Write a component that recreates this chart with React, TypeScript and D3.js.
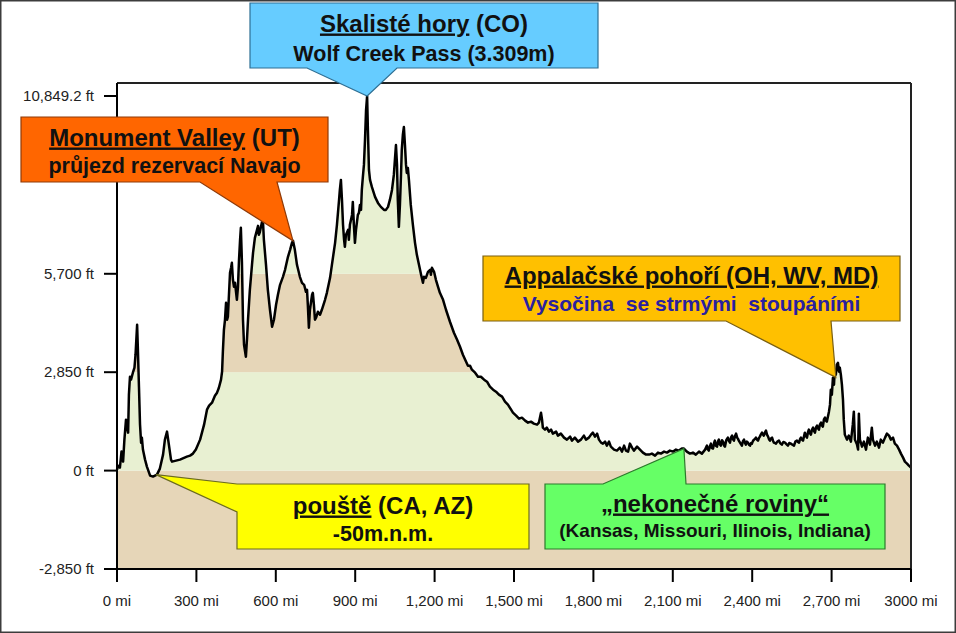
import React from 'react';
import * as d3 from 'd3';

const W = 956;
const H = 633;

const xTicks = [0, 300, 600, 900, 1200, 1500, 1800, 2100, 2400, 2700, 3000];
const xTickLabels = ['0 mi', '300 mi', '600 mi', '900 mi', '1,200 mi', '1,500 mi', '1,800 mi', '2,100 mi', '2,400 mi', '2,700 mi', '3000 mi'];
const yTicks = [-2850, 0, 2850, 5700, 10849.2];
const yTickLabels = ['-2,850 ft', '0 ft', '2,850 ft', '5,700 ft', '10,849.2 ft'];

const bandEdges = [-2850, 0, 2850, 5700, 11230];
const bandColors = ['#e6d6b8', '#e8f0d2', '#e6d6b8', '#e8f0d2'];

// [distance in miles, elevation in feet]
const desertProfile: [number, number][] = [[0,29],[4,145],[11,87],[17,550],[23,260],[28,897],[34,1475],[38,1244],[42,1099],[45,2199],[49,2719],[53,2633],[60,2835],[66,2980],[70,3356],[76,4224],[79,3500],[83,2430],[87,1331],[91,810],[94,955],[98,608],[106,318],[113,116],[125,-145],[136,-174],[151,-116],[162,58],[174,463],[181,897],[189,1128],[196,752],[204,318],[208,260],[238,318],[264,405],[276,434],[287,492],[298,608],[314,897],[329,1331],[340,1765],[348,1880],[359,1967],[370,2170],[378,2257],[385,2401],[393,2633]];

const rockiesProfile: [number, number][] = [[397,2864],[400,3443],[404,4079],[408,4368],[412,4860],[416,4368],[419,4455],[423,5092],[427,5728],[431,5873],[434,6017],[438,5526],[442,5323],[446,5439],[453,4947],[457,5323],[461,6104],[465,6683],[468,7030],[472,6046],[476,4368],[480,3645],[487,3298],[491,3790],[495,4368],[502,5236],[510,5960],[514,6307],[521,6741],[529,6972],[533,7088],[536,6828],[540,6915],[548,7204],[552,7146],[555,6683],[563,5960],[570,5236],[578,4658],[586,4166],[593,4368],[601,4802],[608,5092],[616,5381],[627,5612],[635,5815],[646,6191],[654,6394],[661,6596],[665,6654],[672,6394],[680,5960],[691,5612],[699,5439],[707,5381],[714,5178],[718,5236],[721,4802],[725,4137],[729,4658],[737,5092],[740,5149],[744,4802],[748,4368],[752,4426],[759,4600],[767,4513],[774,4658],[786,4947],[793,5149],[805,5583],[812,5960],[824,6596],[831,7117],[839,7840],[842,8129],[846,8419],[850,7840],[854,7117],[858,6683],[861,6480],[865,6827],[873,6972],[876,6683],[880,7117],[888,7406],[891,7782],[895,7117],[899,6596],[903,6972],[910,7406],[914,7464],[918,7695],[922,7551],[925,8129],[929,8505],[933,8853],[937,9576],[941,10444],[945,10849.2],[948,9865],[952,8708],[956,8419],[963,8216],[975,7927],[986,7753],[997,7638],[1009,7551],[1016,7551],[1024,7638],[1031,7840],[1039,8129],[1046,8563],[1050,8997],[1054,9431],[1058,8853],[1061,7840],[1065,7059],[1069,7695],[1073,8563],[1076,9287],[1080,9720],[1084,9952],[1088,9431],[1092,8853],[1095,8621],[1099,8766],[1103,8419],[1110,7695],[1118,7117],[1126,6596],[1133,6249],[1141,5960],[1149,5670],[1156,5439],[1160,5612],[1167,5583],[1175,5757],[1183,5815],[1186,5670],[1190,5873],[1198,5757],[1205,5526],[1213,5323],[1220,5149],[1232,4947],[1243,4658],[1258,4311],[1273,3992],[1285,3790],[1296,3587],[1307,3356],[1319,3153],[1326,3038]];

const plainsProfile: [number, number][] = [[1334,3038],[1341,2922],[1353,2835],[1364,2719],[1375,2719],[1387,2633],[1398,2575],[1409,2430],[1421,2343],[1432,2285],[1443,2199],[1455,2141],[1466,1996],[1477,1909],[1489,1765],[1496,1678],[1508,1591],[1519,1504],[1530,1533],[1542,1447],[1553,1389],[1564,1418],[1575,1360],[1587,1331],[1594,1389],[1598,1533],[1602,1678],[1606,1475],[1609,1244],[1617,1186],[1624,1244],[1632,1128],[1640,1186],[1647,1070],[1659,1128],[1666,1013],[1677,1070],[1689,955],[1700,897],[1712,984],[1719,868],[1730,955],[1742,839],[1753,897],[1764,1013],[1772,897],[1783,955],[1791,1042],[1798,1099],[1806,984],[1814,1070],[1821,897],[1829,810],[1836,781],[1844,839],[1851,723],[1859,839],[1866,694],[1878,608],[1889,579],[1900,665],[1908,550],[1916,723],[1923,579],[1931,550],[1938,781],[1946,665],[1953,579],[1965,694],[1976,608],[1987,521],[1999,463],[2010,463],[2021,492],[2033,434],[2044,521],[2055,492],[2067,550],[2078,521],[2089,579],[2101,550],[2112,608],[2123,579],[2134,637],[2142,637],[2153,550],[2165,492],[2176,521],[2187,463],[2199,550],[2210,492],[2222,608],[2229,723],[2232,620],[2236,579],[2240,700],[2244,781],[2248,650],[2252,637],[2256,800],[2259,868],[2263,720],[2267,694],[2271,850],[2274,897],[2278,760],[2282,723],[2286,880],[2290,839],[2294,720],[2297,694],[2302,880],[2308,955],[2312,860],[2316,810],[2320,960],[2324,1013],[2328,900],[2331,868],[2335,1000],[2339,1070],[2343,960],[2346,926],[2350,860],[2354,810],[2358,760],[2361,723],[2365,850],[2369,897],[2373,800],[2376,752],[2380,840],[2384,810],[2388,750],[2392,723],[2396,800],[2399,781],[2403,860],[2407,897],[2411,920],[2414,955],[2418,900],[2422,868],[2426,950],[2429,984],[2433,1050],[2437,1099],[2441,1040],[2444,1013],[2448,1100],[2452,1157],[2456,1040],[2460,984],[2464,900],[2467,868],[2471,930],[2475,955],[2479,860],[2482,810],[2486,800],[2490,781],[2495,840],[2501,868],[2506,790],[2512,752],[2518,830],[2524,810],[2530,760],[2535,723],[2540,800],[2546,781],[2552,750],[2558,723],[2563,840],[2569,868],[2573,830],[2577,810],[2581,920],[2584,955],[2588,900],[2592,868],[2596,1000],[2599,1099],[2603,1000],[2607,955],[2611,1120],[2614,1186],[2618,1080],[2622,1042],[2626,1190],[2630,1244],[2634,1140],[2637,1099],[2641,1250],[2645,1302],[2649,1220],[2652,1186],[2656,1340],[2660,1389],[2664,1300],[2667,1273],[2671,1480],[2675,1533],[2679,1440],[2682,1418]];

const appalachianProfile: [number, number][] = [[2690,1707],[2694,1909],[2697,2343],[2701,2199],[2705,2690],[2709,2488],[2712,2922],[2716,2777],[2720,3067],[2724,3124],[2728,2864],[2731,2980],[2735,2777],[2739,2488],[2743,2054],[2746,1475],[2750,1042],[2758,897],[2765,1013],[2773,839],[2780,1331],[2784,1707],[2788,897],[2796,752],[2800,608],[2803,1649],[2807,897],[2815,694],[2822,839],[2830,608],[2837,955],[2845,752],[2852,1244],[2856,897],[2864,723],[2871,839],[2879,665],[2886,897],[2894,810],[2902,955],[2909,1070],[2917,1013],[2924,897],[2932,955],[2939,781],[2947,723],[2955,608],[2962,492],[2970,376],[2977,260],[2985,203],[2992,145],[3000,87]];

const profile = [...desertProfile, ...rockiesProfile, ...plainsProfile, ...appalachianProfile];

type Part = { t: string; u?: boolean };
type Line = { parts: Part[]; size: number; color: string; dy: number };
type Callout = {
  box: [number, number, number, number];
  side: 'bottom' | 'left' | 'top';
  base: [number, number];
  anchor: [number, number];
  fill: string;
  stroke: string;
  lines: Line[];
};

const callouts: Callout[] = [
  {
    box: [250, 3, 598, 68], side: 'bottom', base: [307, 397], anchor: [945, 10849.2],
    fill: '#66ccff', stroke: '#2e6f94',
    lines: [
      { parts: [{ t: 'Skalisté hory', u: true }, { t: ' (CO)' }], size: 24, color: '#111', dy: 28.5 },
      { parts: [{ t: 'Wolf Creek Pass (3.309m)' }], size: 21.5, color: '#111', dy: 57.5 },
    ],
  },
  {
    box: [21, 117, 328, 182], side: 'bottom', base: [200, 277], anchor: [665, 6654],
    fill: '#ff6600', stroke: '#8f3a08',
    lines: [
      { parts: [{ t: 'Monument Valley', u: true }, { t: ' (UT)' }], size: 24, color: '#111', dy: 28.5 },
      { parts: [{ t: 'průjezd rezervací Navajo' }], size: 21.5, color: '#111', dy: 56 },
    ],
  },
  {
    box: [483, 256, 900, 321], side: 'bottom', base: [726, 831], anchor: [2716, 2700],
    fill: '#ffc000', stroke: '#7a5f10',
    lines: [
      { parts: [{ t: 'Appalačské pohoří (OH, WV, MD)', u: true }], size: 24, color: '#111', dy: 27.5 },
      { parts: [{ t: 'Vysočina  se strmými  stoupáními' }], size: 21, color: '#2a1fa0', dy: 54.5 },
    ],
  },
  {
    box: [237, 484, 529, 549], side: 'left', base: [484, 512], anchor: [147, -116],
    fill: '#ffff00', stroke: '#6b6b20',
    lines: [
      { parts: [{ t: 'pouště', u: true }, { t: ' (CA, AZ)' }], size: 24, color: '#111', dy: 29.5 },
      { parts: [{ t: '-50m.n.m.' }], size: 21.5, color: '#111', dy: 56.5 },
    ],
  },
  {
    box: [545, 484, 885, 549], side: 'top', base: [603, 686], anchor: [2142, 637],
    fill: '#66ff66', stroke: '#2c7a2c',
    lines: [
      { parts: [{ t: '„nekonečné roviny“', u: true }], size: 24, color: '#111', dy: 27.5 },
      { parts: [{ t: '(Kansas, Missouri, Ilinois, Indiana)' }], size: 19, color: '#111', dy: 53 },
    ],
  },
];

const FONT = '"Liberation Sans", Arial, Helvetica, sans-serif';

export default function App() {
  const left = 117, right = 911, plotTop = 83, plotBottom = 569;
  const x = d3.scaleLinear().domain([0, 3000]).range([left, right]);
  const y = d3.scaleLinear().domain([-2850, 10849.2]).range([plotBottom, 96]);

  const area = d3.area<[number, number]>()
    .x(d => x(d[0]))
    .y0(y(-2850))
    .y1(d => y(d[1]));
  const line = d3.line<[number, number]>()
    .x(d => x(d[0]))
    .y(d => y(d[1]));

  const calloutPath = (c: Callout) => {
    const [x0, y0, x1, y1] = c.box;
    const tx = x(c.anchor[0]);
    const ty = y(c.anchor[1]);
    const [b1, b2] = c.base;
    let pts: [number, number][];
    if (c.side === 'bottom') {
      pts = [[x0, y0], [x1, y0], [x1, y1], [b2, y1], [tx, ty], [b1, y1], [x0, y1]];
    } else if (c.side === 'left') {
      pts = [[x0, y0], [x1, y0], [x1, y1], [x0, y1], [x0, b2], [tx, ty], [x0, b1]];
    } else {
      pts = [[x0, y0], [b1, y0], [tx, ty], [b2, y0], [x1, y0], [x1, y1], [x0, y1]];
    }
    return 'M' + pts.map(p => p.join(',')).join('L') + 'Z';
  };

  return (
    <div style={{ position: 'absolute', left: 0, top: 0 }}>
      <svg width={W} height={H} style={{ display: 'block' }}>
        <defs>
          <clipPath id="profileClip">
            <path d={area(profile) || ''} />
          </clipPath>
        </defs>
        <rect x={0.75} y={0.75} width={W - 1.5} height={H - 1.5} fill="#fff" stroke="#3c3c3c" strokeWidth={1.5} />

        <g clipPath="url(#profileClip)">
          {bandColors.map((col, i) => (
            <rect key={i} x={left} width={right - left}
              y={y(bandEdges[i + 1])} height={y(bandEdges[i]) - y(bandEdges[i + 1])}
              fill={col} />
          ))}
        </g>

        <path d={line(profile) || ''} fill="none" stroke="#000" strokeWidth={2.5} strokeLinejoin="round" />

        {/* frame */}
        <line x1={left} x2={right} y1={plotTop} y2={plotTop} stroke="#222" strokeWidth={2} />
        <line x1={right} x2={right} y1={plotTop} y2={plotBottom} stroke="#222" strokeWidth={2} />
        <line x1={left} x2={left} y1={plotTop} y2={plotBottom} stroke="#000" strokeWidth={2} />
        <line x1={left} x2={right} y1={plotBottom} y2={plotBottom} stroke="#000" strokeWidth={2} />

        {yTicks.map((v, i) => (
          <g key={'y' + i}>
            <line x1={left - 13} x2={left} y1={y(v)} y2={y(v)} stroke="#000" strokeWidth={2} />
            <text x={94} y={y(v)} dy="0.35em" textAnchor="end" fontFamily={FONT} fontSize={15} fill="#222">{yTickLabels[i]}</text>
          </g>
        ))}
        {xTicks.map((v, i) => (
          <g key={'x' + i}>
            <line x1={x(v)} x2={x(v)} y1={plotBottom} y2={plotBottom + 13} stroke="#000" strokeWidth={2} />
            <text x={x(v)} y={606} textAnchor="middle" fontFamily={FONT} fontSize={15} fill="#222">{xTickLabels[i]}</text>
          </g>
        ))}

        {callouts.map((c, i) => {
          const cx = (c.box[0] + c.box[2]) / 2;
          return (
            <g key={'c' + i}>
              <path d={calloutPath(c)} fill={c.fill} stroke={c.stroke} strokeWidth={1.2} strokeLinejoin="miter" />
              {c.lines.map((ln, j) => (
                <text key={j} x={cx} y={c.box[1] + ln.dy} textAnchor="middle" fontFamily={FONT}
                  fontWeight="bold" fontSize={ln.size} fill={ln.color} style={{ whiteSpace: 'pre' }}>
                  {ln.parts.map((p, k) => (
                    <tspan key={k} style={p.u ? { textDecoration: 'underline' } : undefined}>{p.t}</tspan>
                  ))}
                </text>
              ))}
            </g>
          );
        })}
      </svg>
    </div>
  );
}
